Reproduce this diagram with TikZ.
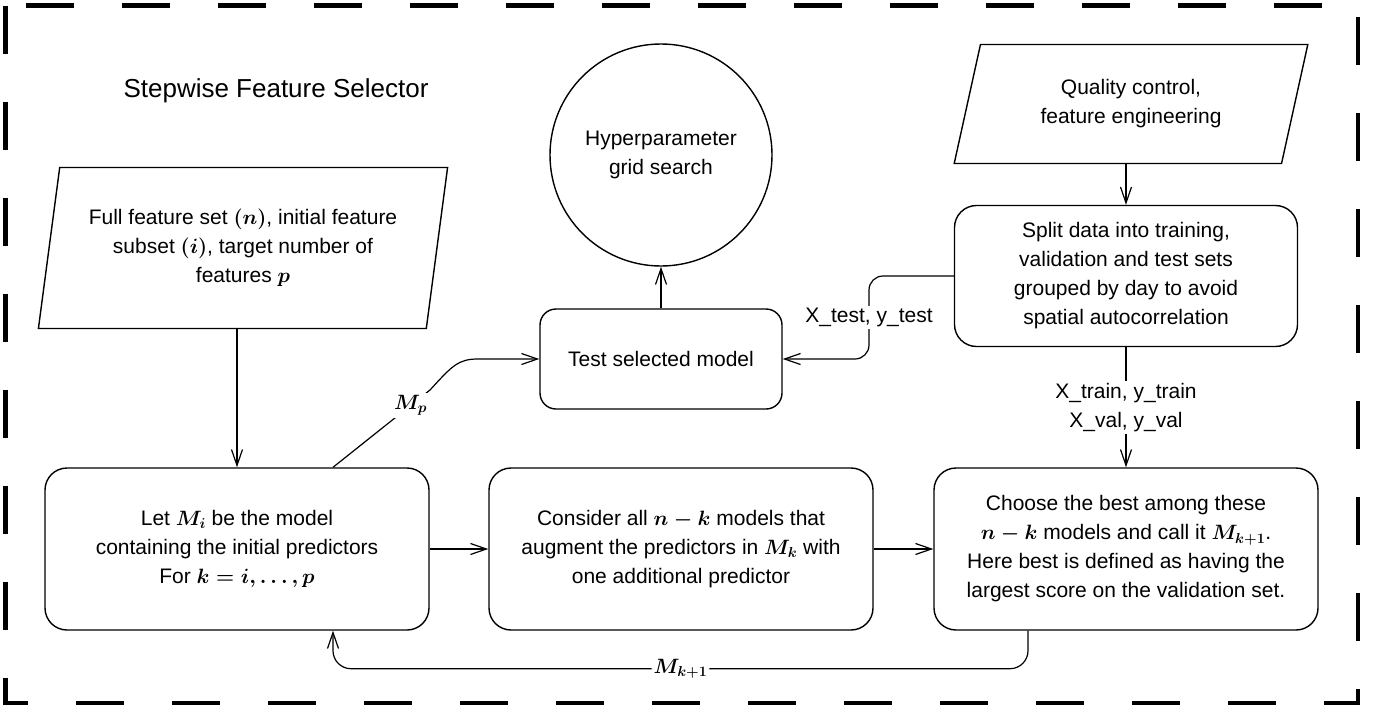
\documentclass[tikz,border=0pt]{standalone}
\usepackage{fontspec}
\setmainfont{Liberation Sans}
\usepackage{bm}
\usetikzlibrary{arrows.meta, calc, shapes.geometric, positioning}

\begin{document}
\begin{tikzpicture}[x=1pt, y=-1pt,
  every node/.style={font=\fontsize{21}{29}\selectfont\boldmath},
  stage/.style={draw, rounded corners=22pt, line width=1.4pt, align=center,
    minimum width=384pt, minimum height=162pt, inner sep=0pt},
  datain/.style={draw, trapezium, trapezium stretches=true, line width=1.4pt,
    align=center, inner sep=0pt},
  arr/.style={-{Straight Barb[length=16pt, width=11pt]}, line width=1.2pt},
  lbl/.style={fill=white, inner sep=2pt, align=center}
]
\useasboundingbox (0,0) rectangle (1376,715);
% --- outer frame ---
\draw[line width=4.5pt, dash pattern=on 48pt off 48pt] (5.5,5.5) rectangle (1358,703);
\node[anchor=base west, font=\fontsize{26}{30}\selectfont] (title) at (120,97) {Stepwise Feature Selector};

% --- inputs and search ---
\node[datain, minimum width=410pt, minimum height=161pt,
  trapezium left angle=77, trapezium right angle=103] (feats) at (243,248)
  {Full feature set $(n)$, initial feature\\subset $(i)$, target number of\\features $p$};
\node[draw, circle, minimum size=222pt, line width=1.4pt, align=center, inner sep=0pt] (grid) at (661,155)
  {Hyperparameter\\grid search};
\node[datain, minimum width=354pt, minimum height=119pt,
  trapezium left angle=72, trapezium right angle=108] (qc) at (1131,104)
  {Quality control,\\feature engineering};
\node[draw, rounded corners=22pt, line width=1.4pt, align=center,
  minimum width=343pt, minimum height=141pt] (split) at (1126,276)
  {Split data into training,\\validation and test sets\\grouped by day to avoid\\spatial autocorrelation};
\node[draw, rounded corners=16pt, line width=1.4pt,
  minimum width=242pt, minimum height=100pt] (test) at (661,359) {Test selected model};

% --- forward selection loop ---
\node[stage] (init) at (237,549)
  {Let $M_i$ be the model\\containing the initial predictors\\For $k=i,\ldots,p$};
\node[stage] (cons) at (681,549)
  {Consider all $n-k$ models that\\augment the predictors in $M_k$ with\\one additional predictor};
\node[stage] (choose) at (1126,549)
  {Choose the best among these\\$n-k$ models and call it $M_{k+1}$.\\Here best is defined as having the\\largest score on the validation set.};

% --- connectors ---
\draw[arr] (split.north |- qc.south) -- (split.north);
\draw[arr] (init.north |- feats.south) -- (init.north);
\draw[arr] (test.north) -- (grid.south);
\draw[arr] (init.east) -- (cons.west);
\draw[arr] (cons.east) -- (choose.west);
\draw[arr] (split.south) -- node[lbl]{X\_train, y\_train\\X\_val, y\_val} (choose.north);

\coordinate (xbend) at (869,276);
\draw[arr, rounded corners=14pt] (split.west) -- (xbend) |- node[lbl, pos=0.25]{X\_test, y\_test} (test.east);

\coordinate (pout) at ([xshift=96pt]init.north);
\coordinate (pbend) at (430,390);
\draw[arr] (pout) -- node[lbl, pos=0.8]{$M_p$} (pbend)
  .. controls (452,366) and (458,359) .. (478,359) -- (test.west);

\coordinate (kout) at ([xshift=-98pt]choose.south);
\coordinate (kin) at ([xshift=96pt]init.south);
\draw[arr, rounded corners=18pt] (kout) -- ++(0,38) -| node[lbl, pos=0.25]{$M_{k+1}$} (kin);
\end{tikzpicture}
\end{document}
